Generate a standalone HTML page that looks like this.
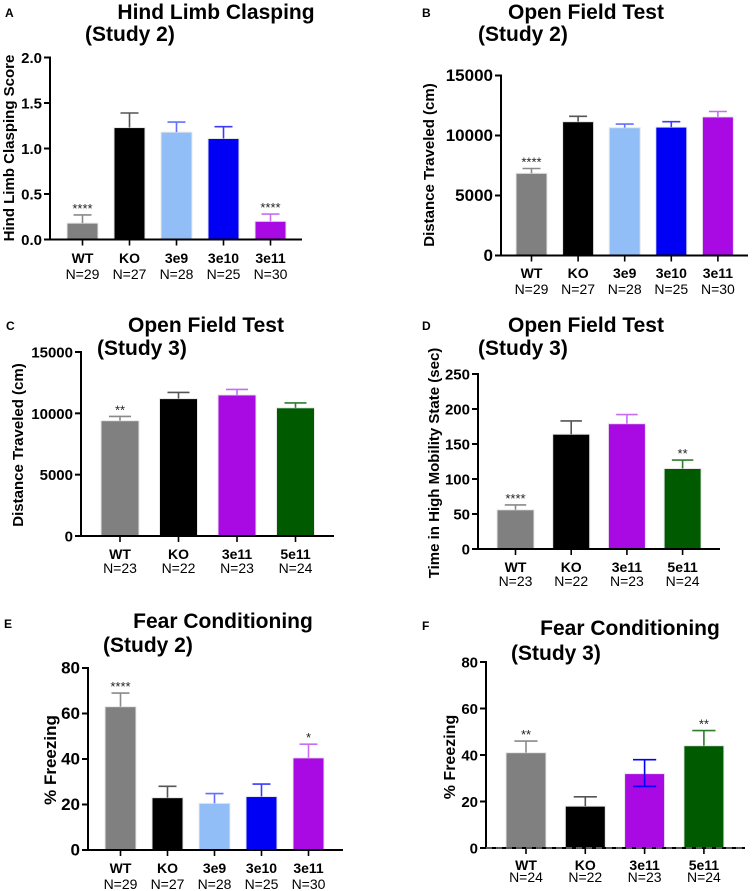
<!DOCTYPE html>
<html><head><meta charset="utf-8">
<style>
html,body{margin:0;padding:0;background:#fff;}
svg{display:block;font-family:"Liberation Sans",Arial,sans-serif;}
</style></head>
<body>
<svg id="fig" width="752" height="891" viewBox="0 0 752 891" xmlns="http://www.w3.org/2000/svg"></svg>
<script>
// ---- Data ----
const aCats = ["WT","KO","3e9","3e10","3e11"];
const aNs = ["N=29","N=27","N=28","N=25","N=30"];
const aMeans = [0.18,1.23,1.18,1.11,0.20];
const aErrs = [0.09,0.16,0.11,0.13,0.08];
const aStars = ["****","","","","****"];
const aTicks = [0,0.5,1.0,1.5,2.0];
const aTickLabels = ["0.0","0.5","1.0","1.5","2.0"];

const bCats = ["WT","KO","3e9","3e10","3e11"];
const bNs = ["N=29","N=27","N=28","N=25","N=30"];
const bMeans = [6850,11150,10650,10700,11550];
const bErrs = [400,450,300,450,450];
const bStars = ["****","","","",""];
const bTicks = [0,5000,10000,15000];
const bTickLabels = ["0","5000","10000","15000"];

const cCats = ["WT","KO","3e11","5e11"];
const cNs = ["N=23","N=22","N=23","N=24"];
const cMeans = [9400,11200,11500,10450];
const cErrs = [350,500,450,400];
const cStars = ["**","","",""];
const cTicks = [0,5000,10000,15000];
const cTickLabels = ["0","5000","10000","15000"];

const dCats = ["WT","KO","3e11","5e11"];
const dNs = ["N=23","N=22","N=23","N=24"];
const dMeans = [56,164,179,115];
const dErrs = [7,19,13,12];
const dStars = ["****","","","**"];
const dTicks = [0,50,100,150,200,250];
const dTickLabels = ["0","50","100","150","200","250"];

const eCats = ["WT","KO","3e9","3e10","3e11"];
const eNs = ["N=29","N=27","N=28","N=25","N=30"];
const eMeans = [63,23,20.5,23.5,40.5];
const eErrs = [6,5,4.3,5.5,6];
const eStars = ["****","","","","*"];
const eTicks = [0,20,40,60,80];
const eTickLabels = ["0","20","40","60","80"];

const fCats = ["WT","KO","3e11","5e11"];
const fNs = ["N=24","N=22","N=23","N=24"];
const fMeans = [41,18,32,44];
const fErrs = [5,4,6,6.5];
const fLowerErrs = [0,0,5.5,0];
const fStars = ["**","","","**"];
const fTicks = [0,20,40,60,80];
const fTickLabels = ["0","20","40","60","80"];

// ---- Styles ----
const FILL = {"WT":"#808080","KO":"#000000","3e9":"#92bef8","3e10":"#0000f5","3e11":"#a90ae3","5e11":"#005a00"};
const ERRC = {"WT":"#8a8a8a","KO":"#555555","3e9":"#6070ff","3e10":"#3a3aff","3e11":"#c56ef0","5e11":"#2e7d2e"};

const NS="http://www.w3.org/2000/svg";
const svg=document.getElementById('fig');
function mk(tag,attrs,parent){const e=document.createElementNS(NS,tag);for(const k in attrs)e.setAttribute(k,attrs[k]);(parent||svg).appendChild(e);return e;}
function txt(s,attrs,parent){const e=mk('text',attrs,parent);e.textContent=s;return e;}

function panel(p){
  const g=mk('g',{});
  
  
  const max=p.ticks[p.ticks.length-1];
  const y=v=>p.y0-(v/max)*(p.y0-p.yTop);
  const x=i=>p.c0+i*p.step;
  const L=txt(p.letter,{x:p.lx,y:p.ly,'font-size':12,'font-weight':'bold'},g);
  
  
  const T=txt(p.title,{x:p.tx,y:p.ty,'font-size':21,'font-weight':'bold','text-anchor':'middle'},g);
  
  
  const S=txt(p.sub,{x:p.sx,y:p.sy,'font-size':21,'font-weight':'bold'},g);
  
  
  const YL=txt(p.ylabel,{x:0,y:0,'font-size':p.ylfs||15,'font-weight':'bold','text-anchor':'middle',transform:`translate(${p.ylx},${p.yly}) rotate(-90)`},g);
  
  
  p.means.forEach((m,i)=>{
    const c=p.cats[i];
    const cx=x(i);
    const top=y(m);
    const r=mk('rect',{x:cx-p.bw/2,y:top,width:p.bw,height:p.y0-top,fill:FILL[c],stroke:'#e8e8e8','stroke-width':1},g);
    
    
    const ec=(p.errColors&&p.errColors[i])||ERRC[c];
    const et=y(m+p.errs[i]);
    const lo=p.lower?y(m-p.lower[i]):top;
    const cw=p.bw*0.29;
    const eg=mk('g',{stroke:ec,'stroke-width':1.6,fill:'none'},g);
    
    
    mk('line',{x1:cx,y1:et,x2:cx,y2:p.lower&&p.lower[i]?lo:top},eg);
    mk('line',{x1:cx-cw,y1:et,x2:cx+cw,y2:et},eg);
    if(p.lower&&p.lower[i])mk('line',{x1:cx-cw,y1:lo,x2:cx+cw,y2:lo},eg);
    if(p.stars[i]){
      const st=txt(p.stars[i],{x:cx,y:et-2,'font-size':13,'text-anchor':'middle',fill:'#222'},g);
      
      
    }
    const cl=txt(c,{x:cx,y:p.catY,'font-size':14,'font-weight':'bold','text-anchor':'middle'},g);
    
    
    const nl=txt(p.ns[i],{x:cx,y:p.nY,'font-size':14,'text-anchor':'middle'},g);
    
    
    mk('line',{x1:cx,y1:p.y0,x2:cx,y2:p.y0+6,stroke:'#000','stroke-width':1.6},g);
  });
  const ax=mk('g',{stroke:'#000','stroke-width':2},g);
  
  
  mk('line',{x1:p.ax,y1:p.yTop-1,x2:p.ax,y2:p.y0+1},ax);
  mk('line',{x1:p.ax,y1:p.y0,x2:p.xEnd,y2:p.y0},ax);
  if(p.dashed){
    const d=mk('line',{x1:p.ax,y1:p.y0,x2:p.xEnd,y2:p.y0,stroke:'#777','stroke-width':1.5,'stroke-dasharray':'6,4'},g);
    
    
  }
  p.ticks.forEach((t,i)=>{
    const ty=y(t);
    mk('line',{x1:p.ax-6,y1:ty,x2:p.ax,y2:ty},ax);
    const tl=txt(p.tickLabels[i],{x:p.ax-8,y:ty+5.5,'font-size':p.tfs||16,'font-weight':'bold','text-anchor':'end'},g);
    
    
  });
}

panel({name:'panel-a-hind-limb',letter:'A',lx:5,ly:17,title:'Hind Limb Clasping',tx:216,ty:19,sub:'(Study 2)',sx:85,sy:41,
  ylabel:'Hind Limb Clasping Score',ylx:14,yly:148,ylfs:15,
  ax:50,y0:239.5,yTop:57.5,xEnd:302,c0:82.5,step:47,bw:31,catY:263,nY:279,tfs:15,
  cats:aCats,ns:aNs,means:aMeans,errs:aErrs,stars:aStars,ticks:aTicks,tickLabels:aTickLabels});
panel({name:'panel-b-open-field',letter:'B',lx:422,ly:17,title:'Open Field Test',tx:586,ty:19,sub:'(Study 2)',sx:478,sy:41,
  ylabel:'Distance Traveled (cm)',ylx:434,yly:165,ylfs:15,
  ax:501,y0:255.5,yTop:75.5,xEnd:748,c0:531.5,step:46.6,bw:31,catY:278,nY:294,tfs:17,
  cats:bCats,ns:bNs,means:bMeans,errs:bErrs,stars:bStars,ticks:bTicks,tickLabels:bTickLabels});
panel({name:'panel-c-open-field',letter:'C',lx:6,ly:330,title:'Open Field Test',tx:206,ty:332,sub:'(Study 3)',sx:97,sy:355,
  ylabel:'Distance Traveled (cm)',ylx:23,yly:445,ylfs:15,
  ax:81,y0:536,yTop:352,xEnd:334,c0:120,step:58.5,bw:38,catY:559,nY:573,tfs:15,
  cats:cCats,ns:cNs,means:cMeans,errs:cErrs,stars:cStars,ticks:cTicks,tickLabels:cTickLabels});
panel({name:'panel-d-high-mobility',letter:'D',lx:422,ly:330,title:'Open Field Test',tx:586,ty:332,sub:'(Study 3)',sx:478,sy:355,
  ylabel:'Time in High Mobility State (sec)',ylx:439,yly:463,ylfs:15,
  ax:478,y0:549,yTop:374,xEnd:720,c0:515.5,step:55.7,bw:37,catY:572,nY:586,tfs:15,
  cats:dCats,ns:dNs,means:dMeans,errs:dErrs,stars:dStars,ticks:dTicks,tickLabels:dTickLabels});
panel({name:'panel-e-fear-conditioning',letter:'E',lx:4,ly:628,title:'Fear Conditioning',tx:223,ty:628,sub:'(Study 2)',sx:103,sy:652,
  ylabel:'% Freezing',ylx:56,yly:760,ylfs:17,
  ax:88,y0:850,yTop:668,xEnd:343,c0:120.5,step:47,bw:31,catY:873,nY:889,tfs:17,
  cats:eCats,ns:eNs,means:eMeans,errs:eErrs,stars:eStars,ticks:eTicks,tickLabels:eTickLabels});
panel({name:'panel-f-fear-conditioning',letter:'F',lx:422,ly:630,title:'Fear Conditioning',tx:630,ty:635,sub:'(Study 3)',sx:511,sy:660,
  ylabel:'% Freezing',ylx:455,yly:757,ylfs:16,
  ax:486,y0:848,yTop:662,xEnd:745,c0:526,step:59.3,bw:40,catY:870,nY:882,tfs:15,dashed:true,
  errColors:[null,null,'#0000ff',null],lower:fLowerErrs,
  cats:fCats,ns:fNs,means:fMeans,errs:fErrs,stars:fStars,ticks:fTicks,tickLabels:fTickLabels});
</script>
</body></html>
